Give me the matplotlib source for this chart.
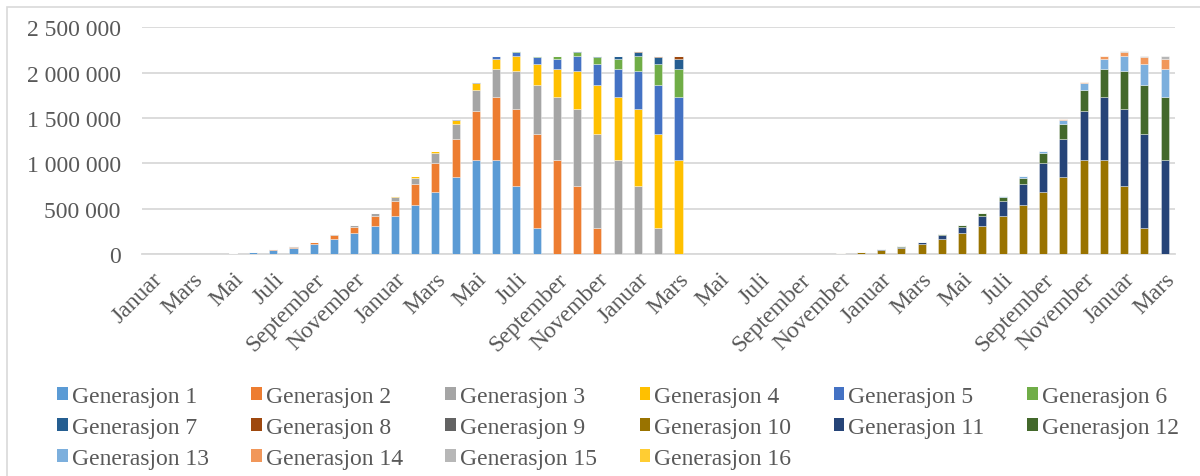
import matplotlib
matplotlib.use("Agg")
import matplotlib.pyplot as plt
from matplotlib.patches import Patch, Rectangle
from matplotlib.ticker import FuncFormatter, MultipleLocator

# ---------------- data ----------------
month_names = ["Januar", "Februar", "Mars", "April", "Mai", "Juni", "Juli",
               "August", "September", "Oktober", "November", "Desember"]
months = month_names * 4 + ["Januar", "Februar", "Mars"]   # 51 monthly categories

series_names = [f"Generasjon {k}" for k in range(1, 17)]

# first month (category index) in which each generation appears
gen_start = [0, 3, 6, 9, 12, 15, 18, 21, 24, 30, 33, 36, 39, 42, 45, 48]

gen1 = [1000, 2000, 4000, 7000, 12000, 25000, 47000, 73000, 110000, 164000, 233000, 316000, 421000, 539000, 687000, 849000, 1039000, 1042000, 748000, 290000]
gen2 = [1000, 2000, 4000, 7000, 12000, 25000, 47000, 73000, 110000, 164000, 233000, 316000, 421000, 539000, 687000, 849000, 1039000, 1042000, 748000, 290000]
gen3 = [1000, 2000, 4000, 7000, 12000, 25000, 47000, 73000, 110000, 164000, 233000, 316000, 421000, 539000, 687000, 849000, 1039000, 1042000, 748000, 290000]
gen4 = [1000, 2000, 4000, 7000, 12000, 25000, 47000, 73000, 110000, 164000, 233000, 316000, 421000, 539000, 687000, 849000, 1039000, 1042000]
gen5 = [1000, 2000, 4000, 7000, 12000, 25000, 47000, 73000, 110000, 164000, 233000, 316000, 421000, 539000, 687000]
gen6 = [1000, 2000, 4000, 7000, 12000, 25000, 47000, 73000, 110000, 164000, 233000, 316000]
gen7 = [1000, 2000, 4000, 7000, 12000, 25000, 47000, 73000, 110000]
gen8 = [1000, 2000, 4000, 7000, 12000, 25000]
gen9 = [1000, 2000, 4000]
gen10 = [1000, 2000, 4000, 7000, 12000, 25000, 47000, 73000, 110000, 164000, 233000, 316000, 421000, 539000, 687000, 849000, 1039000, 1042000, 748000, 290000]
gen11 = [1000, 2000, 4000, 7000, 12000, 25000, 47000, 73000, 110000, 164000, 233000, 316000, 421000, 539000, 687000, 849000, 1039000, 1042000]
gen12 = [1000, 2000, 4000, 7000, 12000, 25000, 47000, 73000, 110000, 164000, 233000, 316000, 421000, 539000, 687000]
gen13 = [1000, 2000, 4000, 7000, 12000, 25000, 47000, 73000, 110000, 164000, 233000, 316000]
gen14 = [1000, 2000, 4000, 7000, 12000, 25000, 47000, 73000, 110000]
gen15 = [1000, 2000, 4000, 7000, 12000, 25000]
gen16 = [1000, 2000, 4000]

gen_values = [gen1, gen2, gen3, gen4, gen5, gen6, gen7, gen8, gen9,
              gen10, gen11, gen12, gen13, gen14, gen15, gen16]

colors = ["#5B9BD5", "#ED7D31", "#A5A5A5", "#FFC000", "#4472C4", "#70AD47",
          "#255E91", "#9E480E", "#636363", "#997300", "#264478", "#43682B",
          "#7CAFDD", "#F1975A", "#B7B7B7", "#FFCD33"]

# ---------------- build full series ----------------
n = len(months)
series = []
for start, vals in zip(gen_start, gen_values):
    s = [0] * n
    for j, v in enumerate(vals):
        if start + j < n:
            s[start + j] = v
    series.append(s)

# ---------------- plot ----------------
plt.rcParams["font.family"] = ["Liberation Serif", "DejaVu Serif"]
text_color = "#595959"
grid_color = "#D9D9D9"

fig = plt.figure(figsize=(12, 4.77), dpi=100)
ax = fig.add_axes([0.118, 0.4648, 0.861, 0.4759])

x = list(range(n))
bottom = [0] * n
handles = []
for name, s, c in zip(series_names, series, colors):
    ax.bar(x, s, width=0.40, bottom=bottom, color=c,
           edgecolor=(1, 1, 1, 0.5), linewidth=0.5, zorder=3)
    bottom = [b + v for b, v in zip(bottom, s)]
    handles.append(Patch(facecolor=c, edgecolor="none", label=name))

ax.set_xlim(-0.5, n - 0.5)
ax.set_ylim(0, 2500000)
ax.yaxis.set_major_locator(MultipleLocator(500000))
ax.yaxis.set_major_formatter(FuncFormatter(lambda v, p: f"{int(v):,}".replace(",", " ")))
ax.yaxis.grid(True, color=grid_color, linewidth=1.3, zorder=0)
ax.set_axisbelow(True)
for sp in ["top", "right", "left"]:
    ax.spines[sp].set_visible(False)
ax.spines["bottom"].set_color(grid_color)
ax.spines["bottom"].set_linewidth(1.3)

ax.set_xticks(x)
ax.set_xticklabels([m if i % 2 == 0 else "" for i, m in enumerate(months)],
                   rotation=45, ha="right", va="top", rotation_mode="anchor")
ax.tick_params(axis="both", length=0, colors=text_color, labelsize=17)
ax.tick_params(axis="y", pad=15)
ax.tick_params(axis="x", pad=10)

# legend: row-major order as in the original
order = [0, 6, 12, 1, 7, 13, 2, 8, 14, 3, 9, 15, 4, 10, 5, 11]
leg = fig.legend([handles[i] for i in order], [series_names[i] for i in order],
                 loc="upper left", bbox_to_anchor=(57 / 1200, 1 - 387 / 477),
                 ncol=6, frameon=False, fontsize=17, handlelength=0.45,
                 handleheight=0.5, handletextpad=0.17, columnspacing=1.8,
                 labelspacing=0.42, borderpad=0, borderaxespad=0)
for t in leg.get_texts():
    t.set_color(text_color)

# chart-area border (left and top edges visible)
fig.patches.append(Rectangle((7 / 1200, -0.1), 1.2, 1 - 8 / 477 + 0.1,
                             transform=fig.transFigure, fill=False,
                             edgecolor=grid_color, linewidth=1.2))

fig.savefig("out.png", dpi=100)
